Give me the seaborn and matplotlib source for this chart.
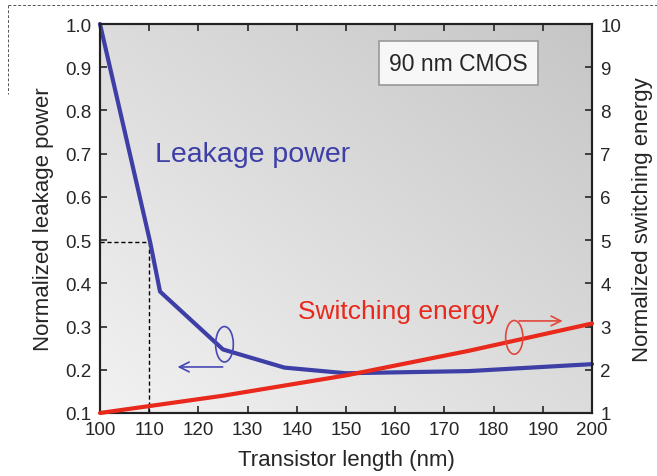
import matplotlib
matplotlib.use("Agg")
import matplotlib.pyplot as plt
from matplotlib.patches import Ellipse
import numpy as np
import pandas as pd
import seaborn as sns

# Leakage power curve (left axis)
leak_length = [100, 110.2, 112.2, 125, 137.5, 150, 175, 200]
leak_power = [1.0, 0.495, 0.381, 0.247, 0.205, 0.192, 0.197, 0.213]

# Switching energy curve (right axis)
sw_length = [100, 125, 150, 175, 200]
sw_energy = [1.0, 1.4, 1.87, 2.44, 3.07]

# dashed guide: 110 nm gives half the leakage
ref_length = 110
ref_leakage = 0.495

x_ticks = list(range(100, 201, 10))
left_ticks = [0.1, 0.2, 0.3, 0.4, 0.5, 0.6, 0.7, 0.8, 0.9, 1.0]
right_ticks = list(range(1, 11))

BLUE = "#3d3fa6"
RED = "#e8291c"

sns.set_style("ticks")
plt.rcParams["font.family"] = ["Liberation Sans", "DejaVu Sans"]
plt.rcParams["xtick.direction"] = "in"
plt.rcParams["ytick.direction"] = "in"

fig = plt.figure(figsize=(6.57, 4.77), dpi=100)
ax = fig.add_axes([100 / 657, 1 - 414 / 477, 492 / 657, 389 / 477])
ax2 = ax.twinx()

# gray gradient background, light at bottom-left, darker at top-right
gx, gy = np.meshgrid(np.linspace(0, 1, 200), np.linspace(0, 1, 200))
level = (242 - 44 * (gx + gy) / 2) / 255
rgb = np.dstack([level, level, level])
ax.imshow(rgb, extent=[0, 1, 0, 1], transform=ax.transAxes, origin="lower",
          aspect="auto", zorder=0, interpolation="bilinear")

leak_df = pd.DataFrame({"length": leak_length, "power": leak_power})
sw_df = pd.DataFrame({"length": sw_length, "energy": sw_energy})

sns.lineplot(data=leak_df, x="length", y="power", ax=ax, color=BLUE, lw=3,
             zorder=4, clip_on=False)
sns.lineplot(data=sw_df, x="length", y="energy", ax=ax2, color=RED, lw=3,
             zorder=4, clip_on=False)

ax.hlines(ref_leakage, 100, ref_length, colors="black", linestyles=(0, (3, 2)), lw=1, zorder=3)
ax.vlines(ref_length, 0.1, ref_leakage, colors="black", linestyles=(0, (3, 2)), lw=1, zorder=3)

ax.set_xlim(100, 200)
ax.set_ylim(0.1, 1.0)
ax2.set_ylim(1, 10)
ax.set_xticks(x_ticks)
ax.set_yticks(left_ticks)
ax2.set_yticks(right_ticks)
ax.set_yticklabels([f"{v:.1f}" for v in left_ticks])
ax.tick_params(axis="both", labelsize=13.5, length=5, width=1.2, top=True, pad=6)
ax2.tick_params(axis="y", labelsize=13.5, length=5, width=1.2, pad=6)
ax.set_xlabel("Transistor length (nm)", fontsize=16, labelpad=8)
ax.set_ylabel("Normalized leakage power", fontsize=16, labelpad=8)
ax2.set_ylabel("Normalized switching energy", fontsize=16, labelpad=8)
for a in (ax, ax2):
    for s in a.spines.values():
        s.set_linewidth(1.5)
        s.set_color("#222222")
        s.set_visible(True)

ax.text(111.2, 0.70, "Leakage power", color=BLUE, fontsize=20.5, va="center", ha="left")
ax2.text(140.2, 3.35, "Switching energy", color=RED, fontsize=19, va="center", ha="left")
ax.text(0.729, 0.899, "90 nm CMOS", transform=ax.transAxes, fontsize=16.5,
        ha="center", va="center", zorder=6,
        bbox=dict(boxstyle="square,pad=0.45", fc="#f7f7f7", ec="#999999", lw=1.2))

# ellipse + arrow pointing to the matching axis
ax.add_patch(Ellipse((125.3, 0.259), 3.6, 0.082, fill=False, ec="#4747b5", lw=1.2, zorder=5))
ax.annotate("", xy=(115.2, 0.2065), xytext=(125.5, 0.2065),
            arrowprops=dict(arrowstyle="->,head_length=0.7,head_width=0.35", color="#4747b5", lw=1.2),
            zorder=5)
ax2.add_patch(Ellipse((184.2, 2.75), 3.5, 0.78, fill=False, ec="#e0473a", lw=1.2, zorder=5))
ax2.annotate("", xy=(194.6, 3.13), xytext=(184.6, 3.13),
             arrowprops=dict(arrowstyle="->,head_length=0.7,head_width=0.35", color="#e0473a", lw=1.2),
             zorder=5)

# faint dashed frame along the top-left of the original figure
fig.add_artist(plt.Line2D([8 / 657, 1], [1 - 6 / 477, 1 - 6 / 477], transform=fig.transFigure,
                          color="#555555", lw=0.7, ls=(0, (3, 2))))
fig.add_artist(plt.Line2D([8 / 657, 8 / 657], [1 - 6 / 477, 1 - 95 / 477], transform=fig.transFigure,
                          color="#555555", lw=0.7, ls=(0, (3, 2))))

fig.savefig("out.png", dpi=100)
